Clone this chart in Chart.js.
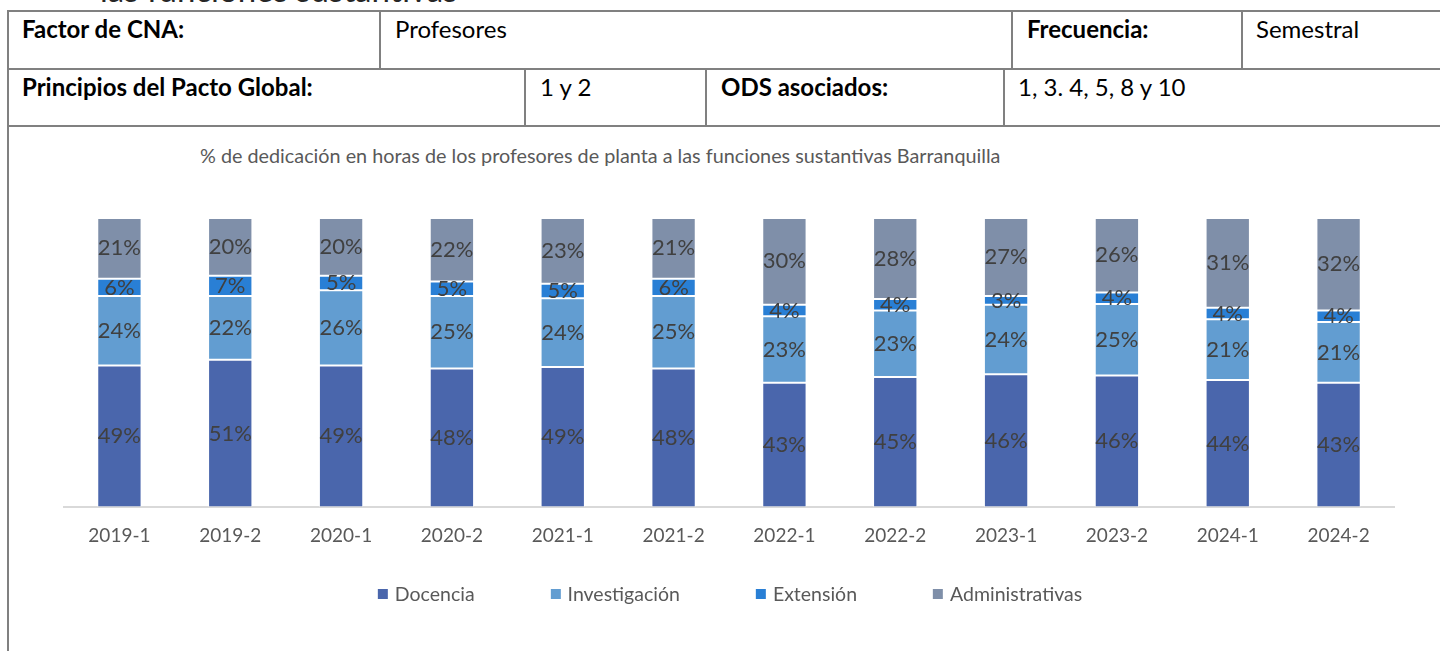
<!DOCTYPE html>
<html>
<head>
<meta charset="utf-8">
<script src="https://cdn.jsdelivr.net/npm/chart.js@4"></script>
<style>
  body { margin: 0; width: 1440px; height: 651px; overflow: hidden; background: #fff; font-family: Lato, "Open Sans", sans-serif; position: relative; }
  .ln { position: absolute; background: #808080; }
  .txt { position: absolute; font-size: 24px; color: #000; white-space: nowrap; line-height: 1; }
  .b { font-weight: bold; }
  #cut { position: absolute; left: 100px; top: -27px; font-size: 33px; color: #262626; line-height: 1; white-space: nowrap; }
  #ttl { position: absolute; left: 200px; top: 146px; font-size: 19.8px; color: #595959; line-height: 1; white-space: nowrap; }
  #c { position: absolute; left: 9px; top: 127px; }
  #legend { position: absolute; left: 730px; top: 584px; transform: translateX(-50%); display: flex; white-space: nowrap; font-size: 19.5px; color: #595959; line-height: 20px; }
  #legend .item { display: flex; align-items: center; margin-right: 76px; }
  #legend .item:last-child { margin-right: 0; }
  #legend .box { width: 10px; height: 10px; margin-right: 7px; }
</style>
</head>
<body>
<div id="cut">las funciones sustantivas</div>

<!-- table lines -->
<div class="ln" style="left:8px;top:10px;width:1432px;height:2px"></div>
<div class="ln" style="left:8px;top:68px;width:1432px;height:2px"></div>
<div class="ln" style="left:8px;top:125px;width:1432px;height:2px"></div>
<div class="ln" style="left:7px;top:10px;width:2px;height:641px"></div>
<div class="ln" style="left:379px;top:10px;width:2px;height:59px"></div>
<div class="ln" style="left:1011px;top:10px;width:2px;height:59px"></div>
<div class="ln" style="left:1241px;top:10px;width:2px;height:59px"></div>
<div class="ln" style="left:524px;top:68px;width:2px;height:58px"></div>
<div class="ln" style="left:705px;top:68px;width:2px;height:58px"></div>
<div class="ln" style="left:1003px;top:68px;width:2px;height:58px"></div>

<div class="txt b" style="left:22px;top:17px">Factor de CNA:</div>
<div class="txt" style="left:395px;top:17px">Profesores</div>
<div class="txt b" style="left:1027px;top:17px">Frecuencia:</div>
<div class="txt" style="left:1256px;top:17px">Semestral</div>
<div class="txt b" style="left:22px;top:75px">Principios del Pacto Global:</div>
<div class="txt" style="left:540px;top:75px">1 y 2</div>
<div class="txt b" style="left:721px;top:75px">ODS asociados:</div>
<div class="txt" style="left:1018px;top:75px">1, 3. 4, 5, 8 y 10</div>

<div id="ttl">% de dedicación en horas de los profesores de planta a las funciones sustantivas Barranquilla</div>
<canvas id="c" width="1431" height="524"></canvas>
<div id="legend"></div>

<script>
const periods = ['2019-1', '2019-2', '2020-1', '2020-2', '2021-1', '2021-2', '2022-1', '2022-2', '2023-1', '2023-2', '2024-1', '2024-2']
const docencia = [49, 51, 49, 48, 49, 48, 43, 45, 46, 46, 44, 43]
const investigacion = [24, 22, 26, 25, 24, 25, 23, 23, 24, 25, 21, 21]
const extension = [6, 7, 5, 5, 5, 6, 4, 4, 3, 4, 4, 4]
const administrativas = [21, 20, 20, 22, 23, 21, 30, 28, 27, 26, 31, 32]

const seriesNames = ['Docencia', 'Investigación', 'Extensión', 'Administrativas']
const seriesColors = ['#4A66AC', '#629DD1', '#297FD5', '#7F8FA9']
const seriesValues = [docencia, investigacion, extension, administrativas]

// 100% stacked: each segment is its share of the period total
const totals = periods.map((p, i) => seriesValues.reduce((s, arr) => s + arr[i], 0))

const datasets = seriesNames.map((name, k) => ({
  label: name,
  data: seriesValues[k].map((v, i) => v / totals[i] * 100),
  raw: seriesValues[k],
  backgroundColor: seriesColors[k],
  borderColor: 'rgba(255,255,255,0.3)',
  borderWidth: 1,
  borderSkipped: false,
  categoryPercentage: 1,
  barPercentage: 0.4
}))

// labels in the middle of each segment
const segmentLabels = {
  id: 'segmentLabels',
  afterDatasetsDraw(chart) {
    const ctx = chart.ctx
    ctx.save()
    ctx.font = '22px Lato'
    ctx.fillStyle = '#404040'
    ctx.textAlign = 'center'
    ctx.textBaseline = 'middle'
    chart.data.datasets.forEach((ds, k) => {
      chart.getDatasetMeta(k).data.forEach((bar, i) => {
        ctx.fillText(ds.raw[i] + '%', bar.x, (bar.y + bar.base) / 2)
      })
    })
    ctx.restore()
  }
}

const myChart = new Chart(document.getElementById('c'), {
  type: 'bar',
  data: { labels: periods, datasets: datasets },
  options: {
    responsive: false,
    animation: false,
    devicePixelRatio: 1,
    layout: { padding: { left: 55, right: 46, top: 91, bottom: 87 } },
    scales: {
      x: {
        stacked: true,
        grid: { display: false, drawTicks: false },
        border: { display: true, color: '#D9D9D9', width: 2 },
        ticks: { color: '#595959', font: { family: 'Lato', size: 19 }, padding: 17 }
      },
      y: { stacked: true, display: false, min: 0, max: 100 }
    },
    plugins: {
      tooltip: { enabled: false },
      legend: { display: false }
    }
  },
  plugins: [segmentLabels]
})

// html legend from the chart datasets
const legendEl = document.getElementById('legend')
myChart.data.datasets.forEach(ds => {
  const item = document.createElement('div')
  item.className = 'item'
  const box = document.createElement('span')
  box.className = 'box'
  box.style.background = ds.backgroundColor
  const label = document.createElement('span')
  label.textContent = ds.label
  item.appendChild(box)
  item.appendChild(label)
  legendEl.appendChild(item)
})
</script>
</body>
</html>
